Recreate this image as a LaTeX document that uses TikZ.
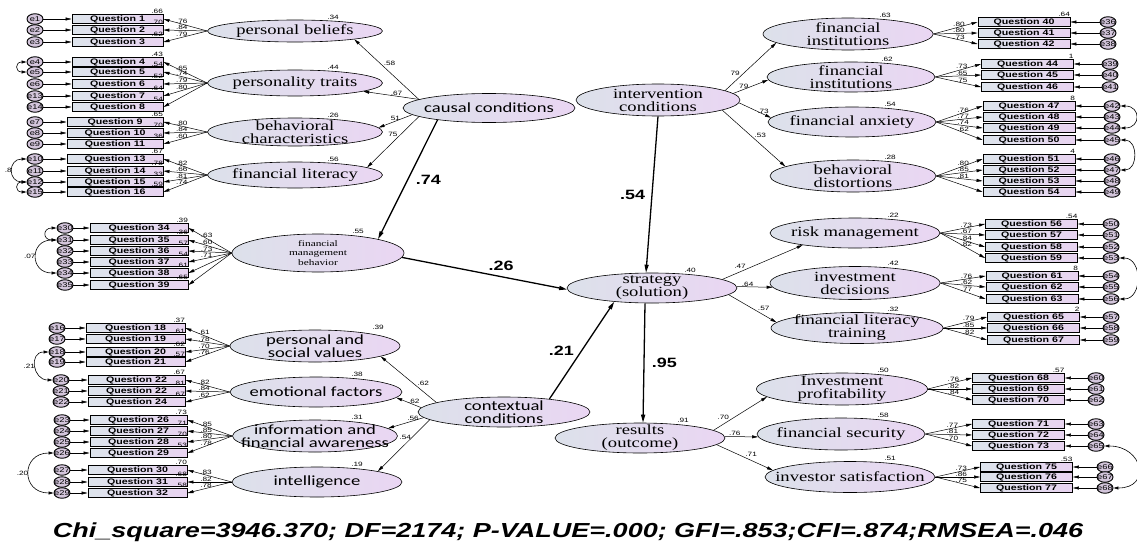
\documentclass[tikz,border=0pt]{standalone}
\usepackage{fontspec}
\setmainfont{Liberation Serif}
\newfontfamily\serifw[FakeStretch=1.33]{Liberation Serif}
\newfontfamily\sansw[FakeStretch=1.33]{Liberation Sans}
\newfontfamily\calw[FakeStretch=1.33]{Carlito}
\usetikzlibrary{arrows.meta,shapes.geometric}
\definecolor{latleft}{HTML}{DCE1EA}
\definecolor{latright}{HTML}{EAD6F3}
\definecolor{boxleft}{HTML}{DDE4EC}
\definecolor{boxright}{HTML}{E8D3F0}
\definecolor{errfill}{HTML}{D3C5DB}

\begin{document}
\begin{tikzpicture}[x=1pt,y=-1pt,
lat/.style={ellipse,draw,line width=0.6pt,left color=latleft,right color=latright,align=center,inner xsep=-20pt,inner ysep=-4pt,minimum width=170pt,minimum height=30pt,font=\serifw\fontsize{14}{13}\selectfont},
latc/.style={lat,font=\calw\fontsize{14}{13}\selectfont},
qbox/.style={draw,line width=0.9pt,left color=boxleft,right color=boxright,minimum height=9.5pt,inner sep=0pt,font=\sansw\bfseries\fontsize{8}{8}\selectfont},
err/.style={ellipse,draw,line width=0.9pt,fill=errfill,minimum width=16pt,minimum height=10.5pt,inner xsep=-4pt,inner ysep=-2pt,font=\sansw\fontsize{7}{7}\selectfont},
num/.style={font=\sansw\fontsize{6.2}{6.2}\selectfont,inner sep=0.4pt},
big/.style={font=\sansw\bfseries\fontsize{13.5}{13.5}\selectfont},
arr/.style={-{Triangle[length=6pt,width=3pt]},line width=0.5pt},
bold/.style={-{Triangle[length=8pt,width=4pt]},line width=1.3pt},
cov/.style={{Triangle[length=5pt,width=3pt]}-{Triangle[length=5pt,width=3pt]},line width=0.6pt}]
\useasboundingbox (0,0) rectangle (1137,543);

% latent variables on the left
\node[lat,minimum width=175pt,minimum height=22pt,label={[num,xshift=38pt]above:.34}] (pb) at (295,31) {personal beliefs};
\node[lat,minimum width=175pt,minimum height=26pt,label={[num,xshift=38pt]above:.44}] (pt) at (295,83) {personality traits};
\node[lat,minimum width=175pt,minimum height=28pt,label={[num,xshift=38pt]above:.26}] (bc) at (295,132) {behavioral\\characteristics};
\node[lat,minimum width=175pt,minimum height=26pt,label={[num,xshift=38pt]above:.56}] (fl) at (295,175) {financial literacy};
\node[lat,minimum width=172pt,minimum height=38pt,font=\serifw\fontsize{8.5}{9.5}\selectfont,label={[num,xshift=40pt]above:.55}] (fmb) at (318,253) {financial\\management\\behavior};
\node[latc,minimum height=32pt,label={[num,xshift=63pt]above:.39}] (psv) at (315,346) {personal and\\social values};
\node[latc,minimum width=172pt,label={[num,xshift=41pt]above:.38}] (ef) at (316,392) {emotional factors};
\node[latc,minimum width=165pt,minimum height=32pt,label={[num,xshift=42pt]above:.31}] (ifa) at (315,436) {information and\\financial awareness};
\node[latc,label={[num,xshift=40pt]above:.19}] (intel) at (317,482) {intelligence};

% core categories
\node[latc,minimum width=172pt,minimum height=29pt] (causal) at (489,108) {causal conditions};
\node[lat,minimum width=164pt,minimum height=32pt] (inter) at (658,100) {intervention\\conditions};
\node[lat,label={[num,xshift=38pt]above:.40}] (strat) at (652,288) {strategy\\(solution)};
\node[latc,minimum width=172pt] (ctx) at (504,412) {contextual\\conditions};
\node[lat,label={[num,xshift=43pt]above:.91}] (res) at (640,438) {results\\(outcome)};

% latent variables on the right
\node[lat,minimum height=32pt,label={[num,xshift=37pt]above:.63}] (fi1) at (848,34) {financial\\institutions};
\node[lat,minimum width=168pt,label={[num,xshift=36pt]above:.62}] (fi2) at (851,77) {financial\\institutions};
\node[lat,minimum width=168pt,label={[num,xshift=38pt]above:.54}] (fa) at (852,122) {financial anxiety};
\node[lat,minimum width=166pt,minimum height=32pt,label={[num,xshift=37pt]above:.28}] (bd) at (853,176) {behavioral\\distortions};
\node[lat,label={[num,xshift=38pt]above:.22}] (rm) at (855,233) {risk management};
\node[lat,minimum height=33pt,label={[num,xshift=38pt]above:.42}] (inv) at (855,283) {investment\\decisions};
\node[lat,minimum width=172pt,minimum height=31pt,label={[num,xshift=36pt]above:.32}] (flt) at (857,328) {financial literacy\\training};
\node[lat,minimum width=171pt,minimum height=32pt,label={[num,xshift=41pt]above:.50}] (ip) at (842,389) {Investment\\profitability};
\node[lat,minimum width=168pt,minimum height=32pt,label={[num,xshift=42pt]above:.58}] (fs) at (841,434) {financial security};
\node[lat,minimum height=31pt,label={[num,xshift=40pt]above:.51}] (is) at (850,477) {investor satisfaction};

% indicators, left side
\foreach \lat/\bx/\bw/\ex/\items in {
  pb/117.5/91/35/{1/1/19/.66/.76,2/2/30/.70/.84,3/3/42/.62/.79},
  pt/117.5/91/35/{4/4/62/.43/.65,5/5/72/.54/.74,6/6/84/.52/.79,7/13/96/.64/.80,8/14/107/.54/{}},
  bc/115/96/35/{9/7/122/.65/.80,10/8/133/.70/.84,11/9/144/.36/.60},
  fl/115/96/35/{13/10/159/.67/.82,14/11/171/.78/.66,15/12/182/.33/.81,16/15/192/.59/.74},
  fmb/139/98/65/{34/30/228/.39/.63,35/31/240/.36/.60,36/32/251/.57/.73,37/33/262/.54/.71,38/34/273/.61/{},39/35/285/.65/{}},
  psv/135.5/99/57/{18/16/328/.37/.61,19/17/339/.61/.78,20/18/352/.62/.70,21/19/362/.57/.76},
  ef/136.5/97/61/{22/20/380/.67/.82,22/21/391/.81/.84,24/22/402/.67/.62},
  ifa/138.5/97/62/{26/23/420/.73/.85,27/24/431/.71/.85,28/25/442/.70/.80,29/26/453/.53/.78},
  intel/137.5/99/62/{30/27/470/.70/.83,31/28/482/.68/.82,32/29/493/.58/.78}}{
  \foreach \n/\e/\y/\rsq/\lw in \items {
    \node[qbox,minimum width=\bw pt,label={[num,anchor=south east]north east:\rsq}] (b\e) at (\bx,\y) {Question \n};
    \node[err] (e\e) at (\ex,\y) {e\e};
    \draw[arr] (e\e) -- (b\e);
    \draw[arr] (\lat.west) -- node[num,pos=.58,above]{\lw} (b\e.east);
  }
}

% indicators, right side
\foreach \lat/\bx/\ex/\items in {
  fi1/1024/1108/{40/36/22/.64/.80,41/37/33/{}/.80,42/38/44/{}/.73},
  fi2/1027.5/1110/{44/39/64/1/.73,45/40/75/{}/.65,46/41/87/{}/.75},
  fa/1029/1112/{47/42/106/8/.76,48/43/117/{}/.77,49/44/128/{}/.74,50/45/140/{}/.62},
  bd/1029/1112/{51/46/159/4/.80,52/47/170/{}/.85,53/48/181/{}/.81,54/49/192/{}/{}},
  rm/1031.5/1111/{56/50/224/.54/.73,57/51/235/{}/.67,58/52/247/{}/.84,59/53/258/{}/.82},
  inv/1032/1111/{61/54/276/8/.76,62/55/287/{}/.62,63/56/299/{}/.77},
  flt/1033.5/1111/{65/57/317/2/.79,66/58/328/{}/.85,67/59/340/{}/.82},
  ip/1018.5/1096/{68/60/378/.57/.76,69/61/389/{}/.82,70/62/400/{}/.84},
  fs/1018.5/1096/{71/63/424/{}/.77,72/64/435/{}/.81,73/65/446/{}/.70},
  is/1026.5/1105/{75/66/467/.53/.73,76/67/477/{}/.86,77/68/488/{}/.75}}{
  \foreach \n/\e/\y/\rsq/\lw in \items {
    \node[qbox,minimum width=92pt,label={[num,anchor=south east]north east:\rsq}] (b\e) at (\bx,\y) {Question \n};
    \node[err] (e\e) at (\ex,\y) {e\e};
    \draw[arr] (e\e) -- (b\e);
    \draw[arr] (\lat.east) -- node[num,pos=.58,above]{\lw} (b\e.west);
  }
}

% error covariances
\draw[cov] (e4.west) to[out=180,in=180,looseness=3] (e5.west);
\draw[cov] (e10.west) to[out=180,in=180,looseness=2.1] node[num,left]{.8} (e12.west);
\draw[cov] (e12.west) to[out=180,in=180,looseness=3] (e15.west);
\draw[cov] (e30.west) to[out=180,in=180,looseness=3] (e31.west);
\draw[cov] (e31.west) to[out=180,in=180,looseness=2.1] node[num,left]{.07} (e34.west);
\draw[cov] (e18.west) to[out=180,in=180,looseness=1.8] node[num,left]{.21} (e20.west);
\draw[cov] (e26.west) to[out=180,in=180,looseness=2.1] node[num,left]{.20} (e29.west);
\draw[cov] (e42.east) to[out=0,in=0,looseness=2.4] (e44.east);
\draw[cov] (e45.east) to[out=0,in=0,looseness=1.5] (e47.east);
\draw[cov] (e53.east) to[out=0,in=0,looseness=1.45] (e56.east);
\draw[cov] (e65.east) to[out=0,in=0,looseness=2.3] (e68.east);

% structural paths
\draw[arr] (causal.173) -- node[num,pos=.6,right=3pt]{.58} (pb.-8);
\draw[arr] (causal.173) -- node[num,pos=.4,above]{.67} (pt.-7);
\draw[arr] (causal.185) -- node[num,pos=.5,above]{51} (bc.3);
\draw[arr] (causal.187) -- node[num,pos=.4,above left]{75} (fl.6);
\draw[bold] (causal.193) -- node[big,pos=.5,right=4pt]{.74} (fmb.13);
\draw[bold] (fmb.-3) -- node[big,pos=.6,above=2pt]{.26} (strat.181);
\draw[bold] (inter.south) -- node[big,left=3pt]{.54} ([xshift=-6pt]strat.north);
\draw[bold] ([xshift=-7pt]strat.south) -- node[big,right=4pt]{.95} ([xshift=3pt]res.north);
\draw[bold] (ctx.16) -- node[big,left=4pt]{.21} (strat.200);
\draw[arr] (ctx.172) -- node[num,pos=.35,above right]{.62} (psv.-9);
\draw[arr] (ctx.177) -- node[num,pos=.3,above]{.62} (ef.-4);
\draw[arr] (ctx.184) -- node[num,pos=.3,above]{.56} (ifa.6);
\draw[arr] (ctx.186) -- node[num,pos=.35,left]{.54} (intel.10);
\draw[arr] (inter.8) -- node[num,pos=.3,above left]{79} (fi1.187);
\draw[arr] (inter.5) -- node[num,pos=.3,above]{79} (fi2.182);
\draw[arr] (inter.-2) -- node[num,pos=.75,above]{.73} (fa.177);
\draw[arr] (inter.-9) -- node[num,pos=.5,above right]{.53} (bd.172);
\draw[arr] (strat.7) -- node[num,pos=.3,above left]{.47} (rm.193);
\draw[arr] (strat.1) -- node[num,pos=.3,above]{.64} (inv.183);
\draw[arr] (strat.-5) -- node[num,pos=.6,above right]{.57} (flt.176);
\draw[arr] (res.6) -- node[num,pos=.3,above left]{.70} (ip.186);
\draw[arr] (res.1) -- node[num,pos=.3,above]{.76} (fs.182);
\draw[arr] (res.-5) -- node[num,pos=.5,above right]{.71} (is.175);

% model fit
\node[font=\sansw\bfseries\itshape\fontsize{20.3}{20.3}\selectfont] (fit) at (568,532) {Chi\_square=3946.370; DF=2174; P-VALUE=.000; GFI=.853;CFI=.874;RMSEA=.046};
\end{tikzpicture}
\end{document}
